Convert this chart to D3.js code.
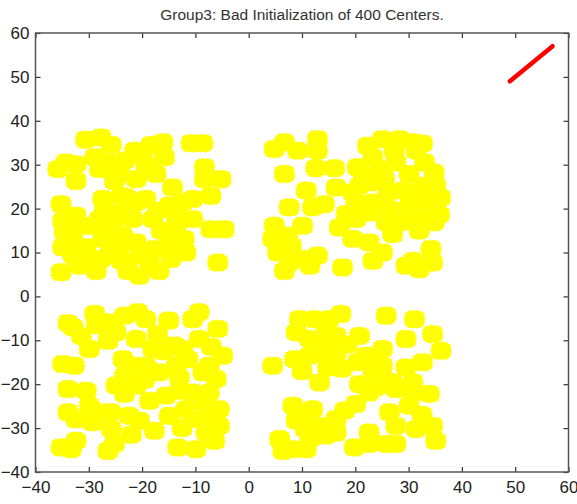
<!DOCTYPE html>
<html>
<head>
<meta charset="utf-8">
<script src="https://cdn.jsdelivr.net/npm/d3@7"></script>
<style>
  html, body { margin: 0; padding: 0; background: #fff; }
  svg { display: block; }
  .tick text { font-family: "Liberation Sans", Arial, sans-serif; font-size: 17px; fill: #222; }
  .title { font-family: "Liberation Sans", Arial, sans-serif; font-size: 15.5px; fill: #333; }
</style>
</head>
<body>
<svg id="chart" width="577" height="504"></svg>
<script>
// Axis ticks
const xTicks = [-40, -30, -20, -10, 0, 10, 20, 30, 40, 50, 60];
const yTicks = [-40, -30, -20, -10, 0, 10, 20, 30, 40, 50, 60];

// Cluster centres of the data points, one array per group
const groupNW = [
  [-30.6, 35.7], [-27.7, 36.2], [-25.8, 34.5], [-21.4, 33.2], [-18.3, 34.5], [-16.1, 35.1],
  [-10.8, 34.9], [-8.6, 34.9], [-35.8, 29.0], [-32.4, 30.1], [-32.4, 26.3], [-28.9, 31.7],
  [-26.4, 30.5], [-24.3, 27.9], [-23.3, 30.9], [-19.3, 29.8], [-17.4, 27.9], [-21.1, 26.7],
  [-14.3, 24.8], [-8.3, 29.4], [-8.3, 26.7], [-5.2, 26.7], [-35.2, 21.0], [-27.4, 22.2],
  [-27.1, 19.5], [-23.0, 22.6], [-19.3, 22.2], [-14.9, 20.7], [-10.5, 22.2], [-7.1, 22.9],
  [-34.9, 17.2], [-32.4, 18.4], [-34.6, 14.6], [-29.3, 16.1], [-25.5, 16.5], [-21.8, 17.6],
  [-18.0, 17.6], [-10.5, 17.6], [-7.1, 15.3], [-4.6, 15.3], [-33.3, 11.9], [-33.0, 9.3],
  [-30.5, 11.2], [-29.9, 7.7], [-27.4, 13.1], [-26.1, 9.6], [-23.6, 13.8], [-23.9, 8.1],
  [-21.1, 12.3], [-20.5, 9.3], [-17.7, 10.8], [-14.9, 12.3], [-11.8, 10.0], [-35.2, 5.5],
  [-28.6, 5.8], [-20.5, 4.7], [-16.8, 5.8], [-5.8, 7.7], [-13.6, 15.0],
  [-19.9, 31.9], [-15.8, 31.7], [-34.3, 30.5], [-28.0, 29.0], [-25.2, 26.3], [-31.1, 16.1],
  [-33.0, 14.2], [-28.0, 17.6], [-24.3, 19.1], [-21.1, 21.4], [-17.1, 19.5], [-16.4, 15.0],
  [-13.6, 18.0], [-12.1, 13.1], [-24.3, 11.2], [-27.7, 8.5], [-31.8, 7.0], [-22.7, 5.8],
  [-18.6, 7.7], [-14.6, 8.5], [-24.0, 22.9], [-12.4, 21.4], [-25.8, 14.6], [-34.9, 11.2]
];
const groupNE = [
  [4.8, 33.6], [6.7, 35.1], [9.2, 33.2], [12.9, 35.8], [12.9, 33.2], [22.3, 34.3],
  [25.1, 35.8], [28.3, 35.8], [30.8, 35.1], [31.4, 33.2], [27.3, 33.2], [6.7, 27.9],
  [12.6, 29.2], [16.1, 29.2], [20.4, 29.4], [24.5, 29.0], [27.6, 30.5], [30.1, 27.9],
  [28.9, 24.1], [34.8, 28.2], [35.1, 25.2], [10.8, 24.1], [16.4, 24.8], [20.8, 25.2],
  [23.3, 26.0], [20.1, 21.4], [23.3, 21.4], [26.4, 19.9], [30.1, 20.7], [34.5, 20.7],
  [34.8, 16.9], [31.7, 18.0], [7.6, 20.3], [12.0, 20.3], [14.2, 21.0], [18.3, 18.8],
  [4.8, 16.1], [4.5, 13.1], [10.1, 16.1], [17.0, 15.7], [19.5, 13.1], [27.0, 14.2],
  [5.4, 10.0], [6.7, 5.8], [10.1, 8.5], [12.9, 9.3], [17.6, 6.6], [23.3, 8.1],
  [25.1, 10.0], [22.6, 12.3], [30.8, 8.1], [34.2, 10.8], [34.5, 7.7], [32.6, 22.9],
  [23.3, 31.7], [32.6, 34.8], [26.1, 23.7], [19.5, 23.7], [22.6, 19.1], [31.4, 22.0],
  [35.8, 18.6], [32.6, 25.2], [25.8, 16.9], [20.1, 17.6], [7.3, 13.8], [7.6, 7.7],
  [32.0, 6.2], [29.5, 7.0],
  [29.0, 17.0], [32.0, 15.0], [36.0, 22.5], [8.0, 11.5], [11.5, 7.0], [25.5, 26.8],
  [21.5, 27.5], [33.0, 30.5]
];
const groupSW = [
  [-33.9, -6.1], [-28.9, -4.0], [-31.4, -9.0], [-29.9, -12.0], [-26.4, -5.9], [-23.3, -4.4],
  [-20.8, -3.6], [-17.1, -8.6], [-21.1, -9.7], [-26.4, -10.1], [-10.5, -5.2], [-9.3, -3.6],
  [-5.8, -7.4], [-12.4, -12.0], [-9.3, -9.7], [-11.4, -14.3], [-34.9, -15.4], [-32.7, -15.8],
  [-23.6, -14.3], [-23.3, -18.1], [-19.3, -15.8], [-16.8, -17.3], [-13.0, -18.5], [-7.4, -15.8],
  [-6.1, -18.8], [-33.9, -21.1], [-33.9, -26.4], [-29.9, -24.9], [-29.3, -28.7], [-25.8, -26.4],
  [-25.8, -30.2], [-23.3, -22.2], [-20.5, -28.3], [-18.6, -23.8], [-17.7, -30.6], [-14.9, -27.2],
  [-10.5, -21.9], [-8.3, -24.1], [-10.5, -27.9], [-5.5, -25.7], [-5.5, -29.5], [-35.2, -34.4],
  [-32.4, -32.9], [-26.4, -35.2], [-25.2, -33.6], [-13.3, -34.4], [-9.9, -34.8], [-6.4, -32.9],
  [-13.0, -21.5],
  [-28.6, -6.6], [-32.9, -7.1], [-24.9, -8.2], [-19.3, -5.2], [-18.0, -12.0], [-13.9, -11.2],
  [-21.1, -20.3], [-24.9, -20.3], [-15.5, -22.6], [-7.4, -21.9], [-8.6, -17.3], [-11.8, -25.7],
  [-32.4, -28.0], [-27.7, -26.4], [-22.4, -27.2], [-7.4, -27.2], [-33.3, -34.8], [-13.6, -15.8],
  [-21.8, -15.8], [-4.9, -13.5],
  [-16.0, -12.5], [-19.5, -19.0], [-12.5, -30.0], [-22.0, -31.5], [-8.0, -31.0], [-30.5, -21.5],
  [-15.0, -5.5], [-7.0, -11.5]
];
const groupSE = [
  [9.5, -5.2], [12.3, -5.2], [15.1, -5.2], [17.3, -4.0], [25.8, -4.4], [31.1, -5.2],
  [34.5, -8.6], [20.8, -9.0], [29.5, -9.7], [11.4, -9.7], [14.5, -10.5], [16.4, -13.1],
  [11.4, -13.5], [14.8, -16.2], [4.5, -15.8], [8.6, -14.3], [25.1, -12.0], [36.1, -12.4],
  [20.4, -15.0], [23.3, -16.9], [20.8, -20.0], [23.9, -20.7], [29.5, -16.2], [32.6, -15.0],
  [27.6, -21.1], [30.8, -21.9], [33.9, -22.2], [13.3, -19.6], [20.1, -24.5], [8.3, -24.9],
  [8.9, -28.3], [12.0, -25.7], [13.3, -29.5], [16.4, -27.9], [14.5, -31.7], [26.4, -26.4],
  [27.6, -29.5], [22.6, -31.0], [31.4, -30.2], [34.5, -29.5], [35.1, -32.9], [5.8, -32.5],
  [6.4, -35.2], [10.8, -34.8], [19.8, -34.4], [25.8, -33.6],
  [8.9, -8.2], [14.5, -6.7], [13.3, -12.8], [16.4, -9.0], [25.1, -15.8], [27.0, -19.6],
  [22.6, -21.9], [30.8, -19.6], [10.1, -26.9], [10.6, -30.2], [16.4, -31.0], [8.3, -34.8],
  [22.6, -33.6], [27.6, -33.6], [30.1, -24.9],
  [17.5, -16.5], [10.0, -17.0], [18.5, -11.0], [22.0, -13.5], [25.5, -19.0], [18.0, -26.0],
  [11.5, -32.5], [32.5, -27.0]
];

// Extent of the 400 initial centres (they all lie on one diagonal segment)
const redCenters = [[49, 49], [57, 57]];

const svg = d3.select("#chart");
const x = d3.scaleLinear().domain([-40, 60]).range([35.5, 568.5]);
const y = d3.scaleLinear().domain([-40, 60]).range([472, 33]);

// Title
svg.append("text")
  .attr("class", "title")
  .attr("x", (x.range()[0] + x.range()[1]) / 2)
  .attr("y", 20)
  .attr("text-anchor", "middle")
  .text("Group3: Bad Initialization of 400 Centers.");

// Clip to plot area
svg.append("clipPath").attr("id", "plotclip")
  .append("rect")
  .attr("x", x(-40)).attr("y", y(60))
  .attr("width", x(60) - x(-40)).attr("height", y(-40) - y(60));

// Jagged, squarish blob glyph: a dense clump of markers around a centre
function blobPath(rx, ry, n, p) {
  const pts = [];
  for (let i = 0; i < n; i++) {
    const a = (i / n) * 2 * Math.PI;
    const c = Math.cos(a), s = Math.sin(a);
    // superellipse radius
    const base = Math.pow(Math.pow(Math.abs(c), p) + Math.pow(Math.abs(s), p), -1 / p);
    const r = base * (i % 2 === 0 ? 1 : 0.88);
    pts.push([rx * r * c, ry * r * s]);
  }
  return "M" + pts.map(q => q[0].toFixed(2) + "," + q[1].toFixed(2)).join("L") + "Z";
}
const blob = blobPath(11, 9.5, 36, 3);

const plot = svg.append("g").attr("clip-path", "url(#plotclip)");
const allGroups = [groupNW, groupNE, groupSW, groupSE];
plot.selectAll("g.group")
  .data(allGroups)
  .join("g")
  .attr("class", "group")
  .selectAll("path")
  .data(d => d)
  .join("path")
  .attr("d", blob)
  .attr("transform", d => `translate(${x(d[0])},${y(d[1])})`)
  .attr("fill", "#ffff00");

// Initial centres
plot.append("path")
  .datum(redCenters)
  .attr("d", d3.line().x(d => x(d[0])).y(d => y(d[1])))
  .attr("fill", "none")
  .attr("stroke", "#ff0000")
  .attr("stroke-width", 4.5)
  .attr("stroke-linecap", "round");

// Axes (ticks point inward on all four sides)
const axG = svg.append("g");
axG.append("g").attr("transform", `translate(0,${y(-40)})`)
  .call(d3.axisBottom(x).tickValues(xTicks).tickSize(-5).tickSizeOuter(0).tickPadding(9));
axG.append("g").attr("transform", `translate(0,${y(60)})`)
  .call(d3.axisTop(x).tickValues(xTicks).tickSize(-5).tickSizeOuter(0).tickFormat(""));
axG.append("g").attr("transform", `translate(${x(-40)},0)`)
  .call(d3.axisLeft(y).tickValues(yTicks).tickSize(-5).tickSizeOuter(0).tickPadding(6));
axG.append("g").attr("transform", `translate(${x(60)},0)`)
  .call(d3.axisRight(y).tickValues(yTicks).tickSize(-5).tickSizeOuter(0).tickFormat(""));
axG.selectAll(".domain").remove();
axG.selectAll(".tick line").attr("stroke", "#333").attr("stroke-width", 1.2);

svg.append("rect")
  .attr("x", x(-40)).attr("y", y(60))
  .attr("width", x(60) - x(-40)).attr("height", y(-40) - y(60))
  .attr("fill", "none").attr("stroke", "#555").attr("stroke-width", 1.5);
</script>
</body>
</html>
